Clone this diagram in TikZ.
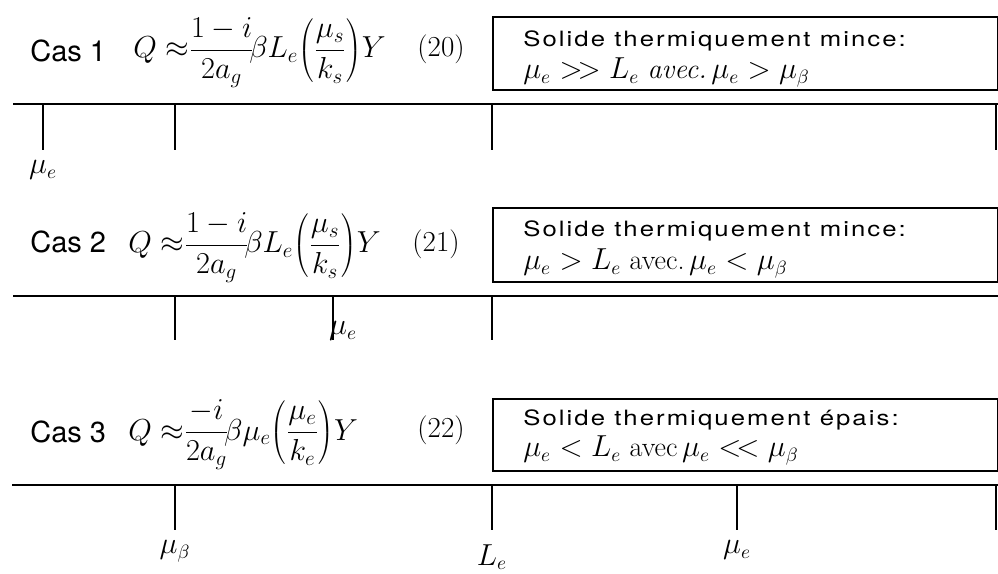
\documentclass[tikz,border=0pt]{standalone}
\usepackage{fontspec}
\setsansfont{TeX Gyre Heros}
\newfontfamily\boxsans[LetterSpace=8]{TeX Gyre Heros}
\usepackage{graphicx}
\usepackage{tikz}
\usetikzlibrary{positioning}

\begin{document}
\begin{tikzpicture}[x=0.02cm,y=-0.02cm, every node/.style={font=\fontsize{16}{19}\selectfont,inner sep=0pt},
  cas/.style={font=\sffamily\fontsize{16.5}{19}\selectfont,anchor=base west},
  formule/.style={anchor=base west,font=\fontsize{16.5}{19}\selectfont},
  numero/.style={font=\fontsize{16.5}{19}\selectfont,anchor=base},
  cadre/.style={draw,line width=1pt,anchor=north west,minimum width=10.1cm},
  titre/.style={font=\boxsans\fontsize{12}{15}\selectfont,anchor=base west},
  condition/.style={anchor=base west},
  axe/.style={line width=1.1pt},
  repere/.style={line width=1.1pt}]
\useasboundingbox (0,0) rectangle (998,574);

% Cas 1
\node[cas] (cas1) at (30,62) {Cas 1};
\node[formule] (q1) at (133,58) {$\displaystyle Q\;\mathord{\approx}\frac{1-i}{2a_g}\!\beta L_e\!\left(\frac{\mu_s}{k_s}\right)\!Y$};
\node[numero] (n1) at (441,57) {(20)};
\node[cadre,minimum height=1.46cm] (c1) at (492,16) {};
\node[titre] (t1) at (523,47) {\scalebox{1.22}[1]{Solide thermiquement mince:}};
\node[condition] (k1) at (523,79) {$\mu_e>\!>L_e$ \textit{avec.}\,$\mu_e>\mu_\beta$};
\coordinate (g1) at (13,104);
\coordinate (d1) at (998,104);
\draw[axe] (g1) -- (d1);
\coordinate (a1) at (43,104);  \coordinate (a1b) at (43,150);
\coordinate (b1) at (175,104); \coordinate (b1b) at (175,150);
\coordinate (e1) at (492,104); \coordinate (e1b) at (492,150);
\coordinate (f1) at (996,104); \coordinate (f1b) at (996,150);
\draw[repere] (a1) -- (a1b);
\draw[repere] (b1) -- (b1b);
\draw[repere] (e1) -- (e1b);
\draw[repere] (f1) -- (f1b);
\node[below=6pt of a1b] (m1) {$\mu_e$};

% Cas 2
\node[cas] (cas2) at (30,253) {Cas 2};
\node[formule] (q2) at (128,253) {$\displaystyle Q\;\mathord{\approx}\frac{1-i}{2a_g}\!\beta L_e\!\left(\frac{\mu_s}{k_s}\right)\!Y$};
\node[numero] (n2) at (436,252) {(21)};
\node[cadre,minimum height=1.48cm] (c2) at (492,207) {};
\node[titre] (t2) at (523,237) {\scalebox{1.22}[1]{Solide thermiquement mince:}};
\node[condition] (k2) at (523,270) {$\mu_e>L_e$ {\rmfamily avec.}\,$\mu_e<\mu_\beta$};
\coordinate (g2) at (13,296);
\coordinate (d2) at (998,296);
\draw[axe] (g2) -- (d2);
\coordinate (b2) at (175,296); \coordinate (b2b) at (175,340);
\coordinate (a2) at (333,296); \coordinate (a2b) at (333,340);
\coordinate (e2) at (492,296); \coordinate (e2b) at (492,340);
\draw[repere] (b2) -- (b2b);
\draw[repere] (a2) -- (a2b);
\draw[repere] (e2) -- (e2b);
\node (m2) at (343,331) {$\mu_e$};

% Cas 3
\node[cas] (cas3) at (30,442) {Cas 3};
\node[formule] (q3) at (128,440) {$\displaystyle Q\;\mathord{\approx}\frac{-i}{2a_g}\!\beta\mu_e\!\left(\frac{\mu_e}{k_e}\right)\!Y$};
\node[numero] (n3) at (441,438) {(22)};
\node[cadre,minimum height=1.44cm] (c3) at (492,398) {};
\node[titre] (t3) at (523,425) {\scalebox{1.22}[1]{Solide thermiquement \'epais:}};
\node[condition] (k3) at (523,457) {$\mu_e<L_e$ {\rmfamily avec}\,$\mu_e<\!<\mu_\beta$};
\coordinate (g3) at (12,485);
\coordinate (d3) at (998,485);
\draw[axe] (g3) -- (d3);
\coordinate (b3) at (175,485); \coordinate (b3b) at (175,530);
\coordinate (e3) at (492,485); \coordinate (e3b) at (492,530);
\coordinate (a3) at (737,485); \coordinate (a3b) at (737,530);
\coordinate (f3) at (996,485); \coordinate (f3b) at (996,530);
\draw[repere] (b3) -- (b3b);
\draw[repere] (e3) -- (e3b);
\draw[repere] (a3) -- (a3b);
\draw[repere] (f3) -- (f3b);
\node[below=6pt of b3b] (m3) {$\mu_\beta$};
\node[below=8pt of e3b] (l3) {$L_e$};
\node[below=6pt of a3b] (n3b) {$\mu_e$};
\end{tikzpicture}
\end{document}
